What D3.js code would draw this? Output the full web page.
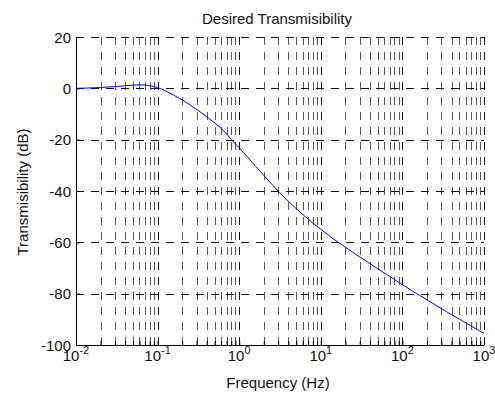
<!DOCTYPE html>
<html>
<head>
<meta charset="utf-8">
<script src="https://cdn.jsdelivr.net/npm/d3@7"></script>
<style>
  body { margin: 0; background: #fff; }
  svg { display: block; font-family: "Liberation Sans", Arial, Helvetica, sans-serif; }
  .axis path, .axis line { stroke: #000; }
</style>
</head>
<body>
<div id="chart"></div>
<script>
// values
const freqHz = [0.01, 0.015, 0.02, 0.03, 0.04, 0.05, 0.06, 0.07, 0.08, 0.1, 0.125, 0.16, 0.2, 0.25, 0.32,
  0.4, 0.5, 0.64, 0.8, 1.0, 1.25, 1.6, 2.0, 2.5, 3.2, 4.0, 5.0, 6.4, 8.0, 10, 13, 16, 20, 25, 32, 40,
  50, 64, 80, 100, 150, 200, 300, 400, 560, 700, 1000];
const transDb = [0.0, 0.15, 0.3, 0.7, 1.0, 1.25, 1.35, 1.3, 1.05, 0.3, -1.0, -2.8, -4.5, -6.5, -8.8,
  -11.1, -13.5, -16.4, -19.9, -23.2, -26.6, -30.5, -33.9, -37.3, -40.9, -44.0, -46.9, -49.9, -52.5, -54.9, -57.7, -59.8, -61.9, -64.0, -66.3, -68.3,
  -70.3, -72.5, -74.5, -76.5, -80.0, -82.4, -85.8, -88.2, -90.8, -92.7, -95.4];
const yTicks = [-100, -80, -60, -40, -20, 0, 20];
const xDecadeExps = [-2, -1, 0, 1, 2, 3];
const minorMult = [2, 3, 4, 5, 6, 7, 8, 9];

const W = 495, H = 394;
const margin = { top: 37, right: 11, bottom: 49, left: 76 };
const width = W - margin.left - margin.right;
const height = H - margin.top - margin.bottom;

const svg = d3.select('#chart').append('svg')
  .attr('width', W)
  .attr('height', H);

const g = svg.append('g')
  .attr('transform', `translate(${margin.left}, ${margin.top})`);

const x = d3.scaleLog().domain([1e-2, 1e3]).range([0, width]);
const y = d3.scaleLinear().domain([-100, 20]).range([height, 0]);

const majorX = xDecadeExps.map(e => Math.pow(10, e));
const minorX = [];
xDecadeExps.slice(0, -1).forEach(e => minorMult.forEach(m => minorX.push(m * Math.pow(10, e))));

// grid
const gridG = g.append('g').attr('class', 'grid');
gridG.selectAll('.vgrid')
  .data(majorX.concat(minorX).filter(v => v > 1e-2))
  .join('line')
  .attr('class', 'vgrid')
  .attr('x1', d => Math.round(x(d)) + 0.5)
  .attr('x2', d => Math.round(x(d)) + 0.5)
  .attr('y1', height)
  .attr('y2', 0)
  .attr('stroke', d => majorX.includes(d) ? '#111' : '#555')
  .attr('stroke-width', 1)
  .attr('stroke-dasharray', '8,7');

gridG.selectAll('.hgrid')
  .data(yTicks.filter(v => v > -100))
  .join('line')
  .attr('class', 'hgrid')
  .attr('x1', 0)
  .attr('x2', width)
  .attr('y1', d => Math.round(y(d)) + 0.5)
  .attr('y2', d => Math.round(y(d)) + 0.5)
  .attr('stroke', '#111')
  .attr('stroke-width', 1)
  .attr('stroke-dasharray', '8,7');

// axes (ticks point inward, no box)
const xAxis = d3.axisBottom(x)
  .tickValues(majorX.concat(minorX))
  .tickSize(-4)
  .tickFormat('');
const xAxisG = g.append('g')
  .attr('class', 'axis x-axis')
  .attr('transform', `translate(0, ${height})`)
  .call(xAxis);
xAxisG.select('.domain').attr('d', `M0.5,0.5H${width}`);

const yAxis = d3.axisLeft(y)
  .tickValues(yTicks)
  .tickSize(-4)
  .tickFormat(d => d);
const yAxisG = g.append('g')
  .attr('class', 'axis y-axis')
  .call(yAxis);
yAxisG.select('.domain').attr('d', `M0.5,0V${height + 0.5}`);
yAxisG.selectAll('.tick text')
  .attr('x', -5)
  .attr('dy', '0.34em')
  .attr('font-size', 15)
  .attr('font-family', null)
  .attr('fill', '#111');
yAxisG.selectAll('.tick line').attr('stroke', '#000');

// x tick labels as 10 with superscript exponent
const xLab = g.append('g').attr('class', 'x-labels');
const labT = xLab.selectAll('text')
  .data(xDecadeExps)
  .join('text')
  .attr('x', d => x(Math.pow(10, d)))
  .attr('y', height + 16)
  .attr('text-anchor', 'middle')
  .attr('fill', '#111');
labT.append('tspan')
  .attr('font-size', 15)
  .text('10');
labT.append('tspan')
  .attr('font-size', 11)
  .attr('dy', -7)
  .text(d => d);

// curve
const line = d3.line()
  .x((d, i) => x(freqHz[i]))
  .y(d => y(d))
  .curve(d3.curveMonotoneX);

g.append('path')
  .datum(transDb)
  .attr('fill', 'none')
  .attr('stroke', '#0000ff')
  .attr('stroke-width', 1)
  .attr('d', line);

// title and labels
svg.append('text')
  .attr('x', margin.left + width / 2 - 3)
  .attr('y', 24)
  .attr('text-anchor', 'middle')
  .attr('font-size', 15)
  .attr('fill', '#111')
  .text('Desired Transmisibility');

svg.append('text')
  .attr('x', margin.left + width / 2 - 2)
  .attr('y', 388)
  .attr('text-anchor', 'middle')
  .attr('font-size', 15)
  .attr('fill', '#111')
  .text('Frequency (Hz)');

svg.append('text')
  .attr('transform', `translate(28, ${margin.top + height / 2 + 1}) rotate(-90)`)
  .attr('text-anchor', 'middle')
  .attr('font-size', 15)
  .attr('fill', '#111')
  .text('Transmisibility (dB)');
</script>
</body>
</html>
